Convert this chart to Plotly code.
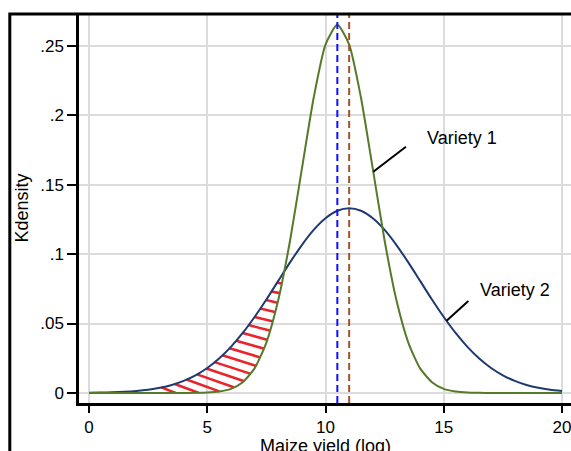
import numpy as np
import plotly.graph_objects as go

# ---------------- data ----------------
yield_x = [0, 0.5, 1, 1.5, 2, 2.5, 3, 3.5, 4, 4.5, 5, 5.5, 6, 6.5, 7, 7.5, 8, 8.5, 9, 9.5,
           10, 10.5, 11, 11.5, 12, 12.5, 13, 13.5, 14, 14.5, 15, 15.5, 16, 16.5, 17, 17.5,
           18, 18.5, 19, 19.5, 20]
variety1 = [0, 0, 0, 0, 0, 0, 0, 0, 0, 0.0001, 0.0003, 0.0011, 0.0030, 0.0078, 0.0177,
            0.0363, 0.0667, 0.1096, 0.1613, 0.2125, 0.2508, 0.2650, 0.2508, 0.2125, 0.1613,
            0.1096, 0.0667, 0.0363, 0.0177, 0.0078, 0.0030, 0.0011, 0.0003, 0.0001, 0, 0,
            0, 0, 0, 0, 0]
variety2 = [0.0002, 0.0003, 0.0005, 0.0009, 0.0015, 0.0024, 0.0038, 0.0058, 0.0087, 0.0127,
            0.0180, 0.0248, 0.0332, 0.0432, 0.0547, 0.0673, 0.0807, 0.0940, 0.1065, 0.1174,
            0.1258, 0.1312, 0.1330, 0.1312, 0.1258, 0.1174, 0.1065, 0.0940, 0.0807, 0.0673,
            0.0547, 0.0432, 0.0332, 0.0248, 0.0180, 0.0127, 0.0087, 0.0058, 0.0038, 0.0024,
            0.0015]
mean_lines = [10.5, 11.0]
mean_colors = ["#1010ff", "#a0522d"]
x_ticks = [0, 5, 10, 15, 20]
y_ticks = [0, 0.05, 0.10, 0.15, 0.20, 0.25]
y_ticktext = ["0", ".05", ".1", ".15", ".2", ".25"]
labels = ["Variety 1", "Variety 2"]

# ---------------- styling / layout ----------------
W, H = 571, 451
ML, MR, MT, MB = 79, 0, 14, 48
XR = [-0.423, 20.38]
YR = [-0.0072, 0.2728]
FONT = "Liberation Sans, Arial, sans-serif"
GREEN = "#557a2a"
NAVY = "#1f3a70"
RED = "#e8242c"

kx = (W - ML - MR) / (XR[1] - XR[0])   # px per x unit
ky = (H - MT - MB) / (YR[1] - YR[0])   # px per y unit

fig = go.Figure()

# hatching between the two curves (lower tail), derived from the series
xs = np.linspace(2.75, 8.3, 3000)
blue_f = np.interp(xs, yield_x, variety2)
green_f = np.interp(xs, yield_x, variety1)
X = xs * kx
Yb = blue_f * ky
Yg = green_f * ky
hx, hy = [], []
c_vals = np.arange(26, 176, 7.6)
for i, c in enumerate(c_vals):
    s = 0.40 - 0.24 * i / (len(c_vals) - 1)
    line = c - s * X
    mask = (line <= Yb) & (line >= Yg) & (Yb > Yg)
    if mask.sum() < 2:
        continue
    idx = np.where(mask)[0]
    i0, i1 = idx[0], idx[-1]
    hx += [xs[i0], xs[i1], None]
    hy += [line[i0] / ky, line[i1] / ky, None]
fig.add_trace(go.Scatter(x=hx, y=hy, mode="lines",
                         line=dict(color=RED, width=2.6), hoverinfo="skip"))

fig.add_trace(go.Scatter(x=yield_x, y=variety2, mode="lines", name=labels[1],
                         line=dict(color=NAVY, width=2, shape="spline", smoothing=0.6)))
fig.add_trace(go.Scatter(x=yield_x, y=variety1, mode="lines", name=labels[0],
                         line=dict(color=GREEN, width=2, shape="spline", smoothing=0.6)))

# mean lines
for m, col in zip(mean_lines, mean_colors):
    fig.add_shape(type="line", xref="x", yref="paper", x0=m, x1=m, y0=0, y1=1,
                  line=dict(color=col, width=2, dash="7px,4px"))

# pointer lines + labels
ptr = [  # (x on curve, series, end x, end y, text x, text y)
    (12.02, variety1, 13.4, 0.1772, 14.2, 0.1836),
    (15.12, variety2, 16.04, 0.0662, 16.45, 0.0741),
]
for (px, ser, ex, ey, tx, ty), lab in zip(ptr, labels):
    py = float(np.interp(px, yield_x, ser))
    fig.add_shape(type="line", xref="x", yref="y", x0=px, y0=py, x1=ex, y1=ey,
                  line=dict(color="black", width=2))
    fig.add_annotation(x=tx, y=ty, xref="x", yref="y", text=lab, showarrow=False,
                       xanchor="left", yanchor="middle",
                       font=dict(family=FONT, size=18, color="black"))

# axis titles
fig.add_annotation(x=(21 - ML) / (W - ML - MR), y=0.5, xref="paper", yref="paper",
                   text="Kdensity", textangle=-90, showarrow=False,
                   xanchor="center", yanchor="middle",
                   font=dict(family=FONT, size=18, color="black"))
fig.add_annotation(x=0.5, y=(H - MB - 446) / (H - MT - MB), xref="paper", yref="paper",
                   text="Maize yield (log)", showarrow=False,
                   xanchor="center", yanchor="middle",
                   font=dict(family=FONT, size=18, color="black"))

# outer frame
fig.add_shape(type="rect", xref="paper", yref="paper",
              x0=(9.8 - ML) / (W - ML - MR), x1=1.2, y0=-0.4, y1=1.0,
              line=dict(color="black", width=3), layer="above")

fig.update_layout(
    width=W, height=H, margin=dict(l=ML, r=MR, t=MT, b=MB),
    paper_bgcolor="white", plot_bgcolor="white", showlegend=False,
    font=dict(family=FONT, color="black"),
    xaxis=dict(range=XR, tickvals=x_ticks, showgrid=True, gridcolor="#dcdcdc", gridwidth=1.5,
               zeroline=False, showline=True, linecolor="black", linewidth=2.5,
               ticks="outside", ticklen=7, tickwidth=1.5, tickcolor="black",
               ticklabeloverflow="allow",
               tickfont=dict(size=17, family=FONT, color="black")),
    yaxis=dict(range=YR, tickvals=y_ticks, ticktext=y_ticktext, showgrid=True,
               gridcolor="#dcdcdc", gridwidth=1.5, zeroline=False, showline=True,
               linecolor="black", linewidth=2.5, ticks="outside", ticklen=9, tickwidth=1.5,
               tickcolor="black", tickfont=dict(size=17, family=FONT, color="black")),
)

fig.write_html("out.html", config={"displayModeBar": False},
               post_script="document.body.style.margin='0';document.body.style.overflow='hidden';")
